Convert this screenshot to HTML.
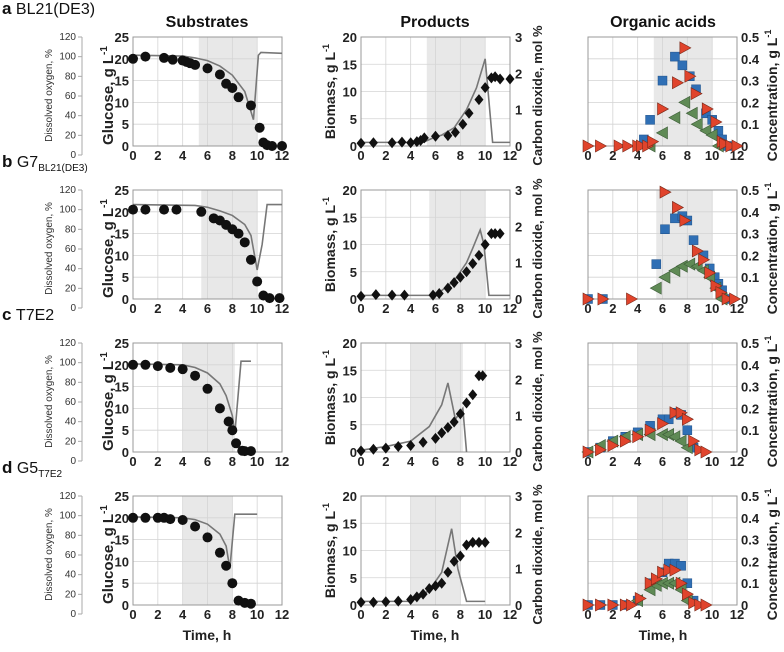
<!DOCTYPE html>
<html><head><meta charset="utf-8"><style>
body{margin:0;background:#fff}
svg{display:block;font-family:"Liberation Sans",sans-serif}
.tk{font-size:13px;font-weight:bold;fill:#222}
.sm{font-size:10px;fill:#333}
</style></head><body>
<svg id="fig" width="784" height="652" viewBox="0 0 784 652"></svg>
<script>
const rowNames=[["a","BL21(DE3)",""],["b","G7","BL21(DE3)"],["c","T7E2",""],["d","G5","T7E2"]];
const shade=[[5.3,10],[5.5,10],[4,8.2],[4,8]];
const gluT=[[0,1,2.5,3.2,4,4.3,4.6,5,6,7,7.5,8,8.5,9.5,10.2,10.5,10.8,11.2,12],[0,1,2.5,3.5,5.5,6.5,7,7.5,8,8.5,9,9.5,10,10.5,11,11.8],[0,1,2,3,4,5,6,7,7.7,8,8.3,8.8,9,9.5],[0,1,2,2.5,3,4,5,6,7,7.5,8,8.5,9,9.5]];
const gluV=[[20,20.5,20.2,19.8,19.6,19.3,19,18.6,17.8,16.4,14.3,13.3,11.2,9.3,4.2,0.8,0.2,0,0],[20.5,20.5,20.5,20.5,20,18.5,18,17,16,15,13,9,4,0.8,0.2,0.2],[20,20,19.7,19.3,19,17.5,14.5,10,7,5,2,0.3,0.2,0.2],[20,20,20,20,19.7,19.5,18,15.5,12,9,5,1,0.5,0.3]];
const doT=[[0,4,5,6,7,8,9,9.7,10.1,10.3,12],[0,5,6,7,8,9,9.5,10,10.4,10.8,12],[0,4,5,6,7,7.5,8,8.2,8.7,9.5],[0,4,5,6,7,7.5,7.8,8.2,8.4,10]];
const doV=[[100,99,97,94,88,78,60,29,100,103,102],[104,103,101,97,92,82,70,32,60,104,104],[97,96,93,87,75,62,40,20,100,100],[97,96,94,89,78,65,40,100,100,100]];
const co2T=[[0,5,6,6.5,7.5,8.5,9.3,10,10.6,12],[0,6,7.5,8.5,9,9.6,9.9,10.3,12],[0,2,4,5.5,6.5,7,7.6,8.2,8.5],[0,4,5.5,6.5,7.3,7.8,8.5,10]];
const co2V=[[0.1,0.1,0.25,0.3,0.5,1,1.6,2.4,0.1,0.1],[0.1,0.1,0.5,1,1.4,1.9,1.5,0.1,0.1],[0.05,0.15,0.3,0.7,1.3,1.9,0.9,1.2,0],[0.1,0.1,0.4,0.9,2.1,1.0,0.1,0.1]];
const bioT=[[0,1,2.5,3.3,4,4.5,4.8,5.1,6,7,7.6,8.2,8.7,9.5,10,10.5,10.8,11.2,12],[0,1.2,2.5,3.5,5.8,6.3,7,7.5,8,8.5,9,9.5,10,10.5,10.8,11.2],[0,1,2,3,4,5,6,6.5,7,7.5,8,8.5,9,9.5,9.8],[0,1,2,3,4,4.5,5,5.5,6,6.5,7,7.5,8,8.5,9,9.5,10]];
const bioV=[[0.5,0.6,0.6,0.7,0.6,0.8,1,1.5,1.8,1.9,2.5,4,6,8.5,10.7,12.5,12.7,12.3,12.3],[0.5,0.8,0.7,0.7,0.7,1,2,3,4,5,6.5,8,10,12,12,12],[0.2,0.5,0.7,1,1.2,1.8,2.5,3.5,4.5,5.5,7,9,10.5,14,14],[0.5,0.5,0.6,0.7,1,1.5,2,3,3.5,4,6,8,9,11,11.5,11.5,11.5]];
const blueT=[[4.5,5,6,7,7.6,8.2,8.7,9.5,10,10.5,10.8,11.2],[0,1.2,5.5,6.2,7,7.6,8,8.5,9.3,9.8,10.2,10.5,10.8,11.2],[0,1,2,3,4,5,6,6.5,7,7.5,8,8.5],[0,1,2,3,4,5,6,6.5,7,7.5,8,8.5]];
const blueV=[[0.03,0.12,0.3,0.41,0.37,0.32,0.26,0.15,0.12,0.07,0.03,0],[0,0,0.16,0.32,0.37,0.38,0.36,0.27,0.2,0.14,0.1,0.07,0.04,0],[0,0.02,0.05,0.07,0.09,0.12,0.15,0.15,0.18,0.17,0.1,0.02],[0,0,0,0,0.02,0.1,0.15,0.19,0.19,0.18,0.1,0.02]];
const greenT=[[5,6,7,7.8,8.4,8.8,9.5,10,10.5],[5.5,6.2,7,7.6,8.2,8.8,9.3,9.8,10.3,10.8],[0,1,2,3,4,5,6,6.5,7,7.5,8],[4,5,5.5,6,6.5,7,7.5,8]];
const greenV=[[0,0.06,0.13,0.2,0.15,0.1,0.07,0.05,0],[0.05,0.1,0.13,0.15,0.16,0.15,0.13,0.1,0.05,0],[0,0.03,0.05,0.07,0.08,0.08,0.08,0.08,0.07,0.05,0.02],[0.02,0.07,0.09,0.1,0.1,0.1,0.07,0.02]];
const redT=[[0,1,2.5,3.2,4,4.3,4.8,5.2,6,7.2,7.8,8.2,8.7,9.6,10.3,10.8,11,11.5,12],[0,1.2,3.5,6.2,7.2,7.8,8.8,9.3,9.8,10.3,10.7,11.2,11.8],[0,1,2,3,4,5,6,7,7.5,8,8.5,9,9.5],[0,1,2,3,3.5,4.2,5,5.5,6,6.5,7,7.5,8,8.5,9,9.5]];
const redV=[[0,0,0,0,0,0,0,0.02,0.17,0.29,0.45,0.32,0.24,0.17,0.11,0.02,0.01,0,0],[0,0,0,0.49,0.42,0.36,0.22,0.18,0.12,0.06,0.03,0,0],[0,0.01,0.03,0.05,0.07,0.1,0.13,0.18,0.18,0.15,0.05,0.01,0],[0,0,0,0,0,0.03,0.1,0.12,0.15,0.16,0.16,0.1,0.05,0.01,0,0]];
const xTicks=[0,2,4,6,8,10,12];

const NS="http://www.w3.org/2000/svg",S=document.getElementById('fig');
function el(t,a,p){const e=document.createElementNS(NS,t);for(const k in a)e.setAttribute(k,a[k]);(p||S).appendChild(e);return e;}
function txt(s,a,p){const e=el('text',a,p);e.textContent=s;return e;}
const cols=[133,361,588],W=149,TOP=37,H=109,DY=153;
function panel(r,c,ymax,yt,yTicks){
  const g=el('g',{});
  
  
  const x0=cols[c],y0=TOP+r*DY;
  const X=v=>x0+v/12*W,Y=v=>y0+H-v/ymax*H;
  el('rect',{x:x0,y:y0,width:W,height:H,fill:'#fff'},g);
  el('rect',{x:X(shade[r][0]),y:y0,width:X(shade[r][1])-X(shade[r][0]),height:H,fill:'#e8e8e8'},g);
  xTicks.forEach(t=>{el('line',{x1:X(t),x2:X(t),y1:y0,y2:y0+H,stroke:'#d4d4d4','stroke-width':0.8},g);
    txt(t,{x:X(t),y:y0+H+14,'text-anchor':'middle',class:'tk'},g);});
  yTicks.forEach(t=>el('line',{x1:x0,x2:x0+W,y1:Y(t),y2:Y(t),stroke:'#d4d4d4','stroke-width':0.8},g));
  el('rect',{x:x0,y:y0,width:W,height:H,fill:'none',stroke:'#999','stroke-width':1},g);
  return {g,X,Y,x0,y0};
}
function line(p,T,V,Yf){el('polyline',{points:T.map((t,i)=>p.X(t)+','+Yf(V[i])).join(' '),fill:'none',stroke:'#777','stroke-width':1.6},p.g);}
for(let r=0;r<4;r++){
  const rn=rowNames[r];
  const lab=txt('',{x:2,y:14+r*DY,'font-size':16,'font-weight':'bold',fill:'#111'});
  lab.innerHTML='<tspan font-size="17">'+rn[0]+'</tspan> <tspan font-weight="normal">'+rn[1]+'</tspan>'+(rn[2]?'<tspan font-size="10" font-weight="normal" dy="4">'+rn[2]+'</tspan>':'');
  let p=panel(r,0,25,0,[0,5,10,15,20,25]);
  [0,5,10,15,20,25].forEach(t=>txt(t,{x:p.x0-4,y:p.Y(t)+5,'text-anchor':'end',class:'tk'},p.g));
  const yDO=v=>p.y0+H+9-v/120*(H+9);
  el('line',{x1:82,x2:82,y1:yDO(120),y2:yDO(0),stroke:'#aaa'},p.g);
  [0,20,40,60,80,100,120].forEach(t=>{el('line',{x1:78,x2:82,y1:yDO(t),y2:yDO(t),stroke:'#aaa'},p.g);txt(t,{x:76,y:yDO(t)+3,'text-anchor':'end',class:'sm'},p.g);});
  txt('Dissolved oxygen, %',{transform:`translate(52,${p.y0+H/2+4}) rotate(-90)`,'text-anchor':'middle',class:'sm','font-size':11},p.g);
  const gl=txt('',{transform:`translate(113,${p.y0+H/2+4}) rotate(-90)`,'text-anchor':'middle','font-size':15,'font-weight':'bold',fill:'#222'},p.g);
  gl.innerHTML='Glucose, g L<tspan font-size="10" dy="-6">-1</tspan>';
  line(p,doT[r],doV[r],v=>p.Y(v*25/120));
  gluT[r].forEach((t,i)=>{const c=el('circle',{cx:p.X(gluT[r][i]),cy:p.Y(gluV[r][i]),r:5,fill:'#111'},p.g);
    });
  p=panel(r,1,20,0,[0,5,10,15,20]);
  [0,5,10,15,20].forEach(t=>txt(t,{x:p.x0-4,y:p.Y(t)+5,'text-anchor':'end',class:'tk'},p.g));
  [0,1,2,3].forEach(t=>txt(t,{x:p.x0+W+5,y:p.Y(t*20/3)+5,class:'tk'},p.g));
  const bl=txt('',{transform:`translate(335,${p.y0+H/2}) rotate(-90)`,'text-anchor':'middle','font-size':14,'font-weight':'bold',fill:'#222'},p.g);
  bl.innerHTML='Biomass, g L<tspan font-size="9" dy="-6">-1</tspan>';
  txt('Carbon dioxide, mol %',{transform:`translate(542,${p.y0+H/2+4}) rotate(-90)`,'text-anchor':'middle','font-size':13,'font-weight':'bold',fill:'#222'},p.g);
  line(p,co2T[r],co2V[r],v=>p.Y(v*20/3));
  bioT[r].forEach((t,i)=>{const x=p.X(t),y=p.Y(bioV[r][i]);const d=el('polygon',{points:`${x},${y-5.5} ${x+4.5},${y} ${x},${y+5.5} ${x-4.5},${y}`,fill:'#111'},p.g);
    });
  p=panel(r,2,0.5,0,[0,0.1,0.2,0.3,0.4,0.5]);
  [0,0.1,0.2,0.3,0.4,0.5].forEach(t=>txt(t,{x:p.x0+W+4,y:p.Y(t)+5,class:'tk'},p.g));
  const cl=txt('',{transform:`translate(777,${p.y0+H/2+4}) rotate(-90)`,'text-anchor':'middle','font-size':14,'font-weight':'bold',fill:'#222'},p.g);
  cl.innerHTML='Concentration, g L<tspan font-size="9" dy="-6">-1</tspan>';
  blueT[r].forEach((t,i)=>{const x=p.X(t),y=p.Y(blueV[r][i]);const s=el('rect',{x:x-4.5,y:y-4.5,width:9,height:9,fill:'#2f6fb5',stroke:'#1d4f88','stroke-width':0.5},p.g);
    });
  greenT[r].forEach((t,i)=>{const x=p.X(t),y=p.Y(greenV[r][i]);const s=el('polygon',{points:`${x+5},${y-6} ${x+5},${y+6} ${x-6},${y}`,fill:'#5f8a55',stroke:'#3d5c38','stroke-width':0.6},p.g);
    });
  redT[r].forEach((t,i)=>{const x=p.X(t),y=p.Y(redV[r][i]);const s=el('polygon',{points:`${x-5},${y-6} ${x-5},${y+6} ${x+6},${y}`,fill:'#e0442c',stroke:'#7a2a1a','stroke-width':0.6},p.g);
    });
}
[['Substrates',207],['Products',435],['Organic acids',663]].forEach(([s,x])=>{const t=txt(s,{x:x,y:27,'text-anchor':'middle','font-size':16,'font-weight':'bold',fill:'#111'});
  });
[207,435,663].forEach(x=>{const t=txt('Time, h',{x:x,y:640,'text-anchor':'middle','font-size':14,'font-weight':'bold',fill:'#222'});
  });
</script>
</body></html>
